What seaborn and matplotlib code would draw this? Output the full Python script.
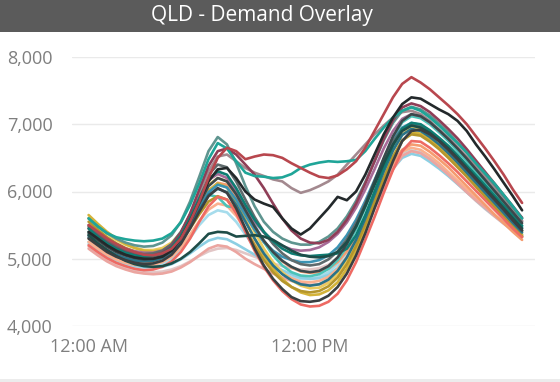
import pandas as pd
import matplotlib.pyplot as plt
import seaborn as sns
from matplotlib.patches import Rectangle
from matplotlib.ticker import FuncFormatter

# half-hourly time of day (hours after midnight)
half_hours = [0, 0.5, 1, 1.5, 2, 2.5, 3, 3.5, 4, 4.5, 5, 5.5,
              6, 6.5, 7, 7.5, 8, 8.5, 9, 9.5, 10, 10.5, 11, 11.5,
              12, 12.5, 13, 13.5, 14, 14.5, 15, 15.5, 16, 16.5, 17, 17.5,
              18, 18.5, 19, 19.5, 20, 20.5, 21, 21.5, 22, 22.5, 23, 23.5]

# demand (MW) per day
day_pale_blue = [5220, 5120, 5030, 4960, 4910, 4880, 4870, 4880, 4920, 5000, 5130, 5310,
                 5500, 5650, 5720, 5690, 5550, 5360, 5170, 5000, 4880, 4790, 4730, 4700,
                 4700, 4730, 4800, 4920, 5100, 5330, 5600, 5890, 6170, 6410, 6560, 6610,
                 6580, 6490, 6380, 6260, 6130, 6000, 5870, 5750, 5640, 5540, 5440, 5350]
day_light_pink = [5180, 5080, 4990, 4920, 4870, 4830, 4810, 4800, 4810, 4840, 4890, 4960,
                  5040, 5110, 5150, 5160, 5130, 5080, 5030, 4980, 4930, 4890, 4860, 4840,
                  4840, 4860, 4910, 5000, 5140, 5340, 5590, 5870, 6140, 6380, 6540, 6600,
                  6570, 6480, 6360, 6240, 6120, 5990, 5860, 5740, 5630, 5520, 5420, 5330]
day_light_blue = [5250, 5150, 5060, 4990, 4940, 4900, 4880, 4870, 4880, 4920, 4990, 5080,
                  5180, 5270, 5310, 5290, 5220, 5140, 5060, 4980, 4900, 4830, 4770, 4720,
                  4700, 4710, 4760, 4860, 5020, 5250, 5520, 5820, 6100, 6340, 6500, 6560,
                  6530, 6440, 6340, 6230, 6110, 5990, 5870, 5750, 5640, 5530, 5430, 5330]
day_peach = [5250, 5150, 5060, 4990, 4940, 4910, 4900, 4910, 4950, 5030, 5170, 5360,
             5560, 5730, 5820, 5790, 5640, 5430, 5220, 5040, 4900, 4790, 4710, 4660,
             4650, 4670, 4730, 4850, 5030, 5270, 5550, 5860, 6150, 6410, 6590, 6650,
             6620, 6530, 6420, 6290, 6160, 6030, 5900, 5770, 5650, 5540, 5440, 5340]
day_pink = [5150, 5050, 4960, 4890, 4840, 4800, 4780, 4770, 4780, 4810, 4870, 4950,
            5050, 5150, 5200, 5180, 5100, 5000, 4920, 4850, 4780, 4720, 4670, 4630,
            4610, 4620, 4660, 4760, 4920, 5150, 5430, 5750, 6050, 6330, 6530, 6600,
            6570, 6480, 6370, 6250, 6120, 5990, 5870, 5760, 5640, 5530, 5430, 5340]
day_light_yellow = [5600, 5480, 5370, 5280, 5210, 5160, 5130, 5130, 5160, 5240, 5390, 5610,
                    5870, 6100, 6200, 6150, 5950, 5680, 5400, 5150, 4950, 4800, 4680, 4600,
                    4560, 4570, 4640, 4770, 4970, 5240, 5570, 5930, 6290, 6610, 6850, 6950,
                    6930, 6840, 6720, 6590, 6450, 6300, 6150, 6000, 5850, 5700, 5550, 5410]
day_orange = [5300, 5200, 5110, 5040, 4990, 4960, 4950, 4960, 5000, 5090, 5250, 5480,
              5750, 6000, 6130, 6100, 5920, 5680, 5450, 5250, 5080, 4960, 4870, 4810,
              4790, 4800, 4850, 4950, 5110, 5330, 5600, 5900, 6180, 6430, 6620, 6700,
              6680, 6590, 6480, 6360, 6220, 6080, 5940, 5800, 5660, 5530, 5400, 5280]
day_light_teal = [5400, 5290, 5200, 5130, 5080, 5050, 5040, 5050, 5090, 5180, 5350, 5580,
                  5800, 5950, 5920, 5780, 5760, 5700, 5500, 5250, 5050, 4900, 4800, 4750,
                  4740, 4770, 4850, 4980, 5180, 5440, 5760, 6120, 6480, 6800, 7030, 7120,
                  7090, 7000, 6880, 6750, 6600, 6450, 6290, 6130, 5970, 5810, 5650, 5490]
day_yellow = [5650, 5520, 5400, 5300, 5220, 5160, 5120, 5110, 5130, 5200, 5340, 5550,
              5800, 6020, 6120, 6060, 5850, 5580, 5300, 5050, 4850, 4700, 4580, 4500,
              4460, 4470, 4530, 4650, 4850, 5120, 5450, 5800, 6150, 6480, 6750, 6880,
              6860, 6770, 6660, 6530, 6390, 6240, 6090, 5940, 5790, 5640, 5490, 5360]
day_mustard = [5550, 5430, 5320, 5230, 5160, 5110, 5080, 5070, 5090, 5150, 5270, 5450,
               5660, 5850, 5930, 5880, 5700, 5450, 5200, 4980, 4800, 4670, 4580, 4520,
               4500, 4520, 4590, 4720, 4920, 5190, 5510, 5860, 6200, 6520, 6760, 6850,
               6830, 6740, 6630, 6500, 6360, 6220, 6070, 5920, 5770, 5620, 5470, 5330]
day_blue = [5350, 5250, 5160, 5090, 5040, 5000, 4990, 5000, 5040, 5130, 5290, 5510,
            5760, 5990, 6100, 6060, 5880, 5650, 5430, 5250, 5120, 5030, 4980, 4950,
            4950, 4980, 5050, 5170, 5350, 5580, 5860, 6170, 6480, 6760, 6950, 7020,
            6990, 6900, 6780, 6650, 6510, 6360, 6210, 6060, 5910, 5760, 5610, 5460]
day_purple = [5500, 5390, 5290, 5210, 5150, 5110, 5090, 5090, 5120, 5210, 5380, 5630,
              5920, 6170, 6260, 6200, 6000, 5760, 5550, 5390, 5270, 5190, 5140, 5120,
              5130, 5170, 5250, 5370, 5540, 5760, 6030, 6330, 6640, 6900, 7080, 7150,
              7120, 7030, 6910, 6790, 6650, 6500, 6350, 6200, 6040, 5880, 5720, 5560]
day_salmon = [5200, 5100, 5010, 4940, 4890, 4850, 4830, 4840, 4880, 4960, 5100, 5300,
              5550, 5780, 5920, 5880, 5680, 5400, 5120, 4880, 4680, 4520, 4400, 4320,
              4290, 4300, 4360, 4480, 4680, 4950, 5280, 5620, 5980, 6320, 6600, 6750,
              6740, 6650, 6540, 6420, 6290, 6150, 6010, 5870, 5730, 5590, 5450, 5320]
day_slate = [5480, 5370, 5270, 5190, 5130, 5090, 5070, 5080, 5120, 5220, 5400, 5660,
             5960, 6250, 6400, 6360, 6150, 5880, 5620, 5400, 5220, 5080, 4980, 4920,
             4900, 4920, 4990, 5110, 5290, 5530, 5820, 6140, 6460, 6740, 6930, 7000,
             6970, 6880, 6760, 6630, 6490, 6340, 6180, 6030, 5870, 5720, 5570, 5420]
day_steel = [5320, 5220, 5130, 5060, 5010, 4970, 4960, 4970, 5010, 5100, 5260, 5480,
             5730, 5950, 6040, 5990, 5800, 5550, 5300, 5080, 4900, 4770, 4680, 4620,
             4600, 4620, 4690, 4820, 5020, 5280, 5600, 5950, 6300, 6610, 6840, 6930,
             6900, 6810, 6700, 6570, 6430, 6280, 6130, 5980, 5830, 5680, 5530, 5390]
day_mauve = [5350, 5250, 5170, 5100, 5050, 5020, 5000, 5010, 5050, 5150, 5330, 5600,
             5950, 6300, 6520, 6550, 6450, 6350, 6280, 6230, 6180, 6150, 6050, 5980,
             6020, 6080, 6150, 6250, 6400, 6550, 6700, 6850, 6980, 7100, 7180, 7200,
             7150, 7050, 6920, 6800, 6660, 6520, 6370, 6220, 6060, 5900, 5730, 5560]
day_gray_teal = [5600, 5480, 5380, 5300, 5240, 5200, 5180, 5190, 5240, 5350, 5550, 5850,
                 6220, 6600, 6810, 6700, 6420, 6080, 5780, 5550, 5400, 5300, 5240, 5210,
                 5210, 5250, 5330, 5450, 5630, 5860, 6140, 6450, 6760, 7020, 7200, 7260,
                 7220, 7130, 7010, 6880, 6730, 6580, 6420, 6260, 6100, 5930, 5760, 5600]
day_maroon = [5450, 5340, 5240, 5160, 5100, 5060, 5040, 5050, 5090, 5190, 5380, 5670,
              6030, 6380, 6600, 6640, 6550, 6400, 6250, 6050, 5820, 5600, 5420, 5300,
              5240, 5230, 5280, 5400, 5580, 5820, 6120, 6450, 6780, 7060, 7250, 7310,
              7270, 7180, 7060, 6930, 6790, 6630, 6460, 6290, 6120, 5950, 5780, 5610]
day_dark_teal = [5450, 5330, 5230, 5150, 5090, 5050, 5030, 5040, 5080, 5170, 5340, 5600,
                 5900, 6180, 6300, 6250, 6050, 5800, 5580, 5400, 5260, 5150, 5080, 5050,
                 5040, 5050, 5060, 5080, 5150, 5350, 5650, 6000, 6350, 6680, 6930, 7020,
                 7000, 6910, 6800, 6680, 6540, 6390, 6240, 6090, 5940, 5790, 5640, 5490]
day_teal = [5600, 5480, 5380, 5320, 5290, 5270, 5260, 5270, 5300, 5380, 5540, 5800,
            6120, 6480, 6720, 6640, 6450, 6280, 6230, 6220, 6200, 6210, 6260, 6350,
            6400, 6430, 6450, 6440, 6450, 6470, 6600, 6780, 6950, 7100, 7200, 7250,
            7200, 7100, 6980, 6850, 6720, 6580, 6420, 6270, 6120, 5950, 5780, 5600]
day_dark_slate = [5380, 5280, 5180, 5100, 5050, 5010, 4990, 5000, 5040, 5130, 5300, 5540,
                  5820, 6080, 6200, 6150, 5960, 5720, 5480, 5270, 5100, 4970, 4880, 4820,
                  4800, 4820, 4890, 5020, 5220, 5480, 5800, 6150, 6500, 6820, 7050, 7150,
                  7120, 7030, 6910, 6780, 6640, 6490, 6330, 6170, 6010, 5850, 5690, 5530]
day_dark_green = [5350, 5230, 5130, 5040, 4970, 4920, 4890, 4880, 4890, 4930, 5000, 5100,
                  5230, 5370, 5400, 5390, 5330, 5340, 5350, 5330, 5280, 5200, 5120, 5060,
                  5030, 5020, 5040, 5100, 5250, 5480, 5780, 6100, 6420, 6700, 6900, 6980,
                  6950, 6870, 6760, 6640, 6500, 6350, 6200, 6050, 5900, 5750, 5600, 5450]
day_black_low = [5300, 5200, 5100, 5030, 4980, 4940, 4920, 4930, 4970, 5060, 5220, 5450,
                 5700, 5930, 6050, 5980, 5750, 5450, 5150, 4900, 4700, 4550, 4430, 4370,
                 4360, 4380, 4450, 4580, 4780, 5050, 5380, 5750, 6100, 6450, 6750, 6900,
                 6920, 6850, 6750, 6620, 6480, 6330, 6180, 6030, 5880, 5730, 5570, 5420]
day_black = [5400, 5300, 5200, 5120, 5060, 5020, 5000, 5000, 5030, 5120, 5300, 5560,
             5850, 6150, 6330, 6350, 6200, 6000, 5880, 5820, 5770, 5600, 5450, 5360,
             5450, 5600, 5750, 5920, 5870, 6000, 6250, 6550, 6850, 7100, 7300, 7400,
             7380, 7300, 7220, 7150, 7050, 6900, 6700, 6520, 6330, 6130, 5930, 5720]
day_hot = [5500, 5400, 5300, 5220, 5150, 5100, 5060, 5050, 5080, 5150, 5300, 5550,
           5850, 6200, 6500, 6650, 6600, 6480, 6520, 6550, 6540, 6500, 6420, 6350,
           6280, 6220, 6200, 6240, 6330, 6450, 6650, 6900, 7150, 7400, 7600, 7700,
           7620, 7520, 7400, 7280, 7150, 7000, 6820, 6640, 6450, 6250, 6030, 5830]

days = {
    'pale_blue': day_pale_blue, 'light_pink': day_light_pink, 'light_blue': day_light_blue,
    'peach': day_peach, 'pink': day_pink, 'light_yellow': day_light_yellow,
    'orange': day_orange, 'light_teal': day_light_teal, 'yellow': day_yellow,
    'mustard': day_mustard, 'blue': day_blue, 'purple': day_purple,
    'salmon': day_salmon, 'slate': day_slate, 'steel': day_steel,
    'mauve': day_mauve, 'gray_teal': day_gray_teal, 'maroon': day_maroon,
    'dark_teal': day_dark_teal, 'teal': day_teal, 'dark_slate': day_dark_slate,
    'dark_green': day_dark_green, 'black_low': day_black_low, 'black': day_black,
    'hot': day_hot,
}
day_colors = ['#A6DCEC', '#E2C6C6', '#8CCFE3', '#FBB08E', '#EBA5A0', '#EBCB5E',
              '#F59C70', '#4CC3B8', '#D4B339', '#B5962C', '#3B93B3', '#A66B98',
              '#EE6A63', '#5F6B6D', '#2A7388', '#A3898F', '#5F9590', '#8F3E57',
              '#0F7D73', '#1FA598', '#3B484B', '#1E4D48', '#3A3F41', '#23292B',
              '#B8474E']

rows = []
for name, vals in days.items():
    for t, v in zip(half_hours, vals):
        rows.append({'time': t, 'demand': v, 'day': name})
df = pd.DataFrame(rows)

sns.set_theme(style='white')
plt.rcParams['font.family'] = ['Open Sans', 'DejaVu Sans']

fig = plt.figure(figsize=(5.6, 3.82), dpi=100)
fig.patch.set_facecolor('white')

# title bar
fig.patches.append(Rectangle((0, 1 - 32 / 382), 1, 32 / 382, transform=fig.transFigure,
                             facecolor='#5B5B5B', edgecolor='none', zorder=0))
fig.text(0.468, 1 - 16 / 382, 'QLD - Demand Overlay', color='white', fontsize=15,
         ha='center', va='center')
fig.patches.append(Rectangle((0, 0), 1, 3 / 382, transform=fig.transFigure,
                             facecolor='#ECECEC', edgecolor='none', zorder=0))

ax = fig.add_axes([72 / 560, 56 / 382, 463 / 560, 269 / 382])
sns.lineplot(data=df, x='time', y='demand', hue='day', hue_order=list(days.keys()),
             palette=day_colors, linewidth=1.9, legend=False, errorbar=None, ax=ax)

ax.set_xlim(-0.9, 24.2)
ax.set_ylim(4000, 8000)
ax.set_yticks([4000, 5000, 6000, 7000, 8000])
ax.yaxis.set_major_formatter(FuncFormatter(lambda v, p: f'{int(v):,}'))
ax.set_xticks([0, 12])
ax.set_xticklabels(['12:00 AM', '12:00 PM'])
ax.set_xlabel('')
ax.set_ylabel('')
ax.grid(axis='y', color='#EAEAEA', linewidth=1)
ax.set_axisbelow(True)
for s in ax.spines.values():
    s.set_visible(False)
ax.tick_params(axis='both', length=0, labelsize=13, labelcolor='#7F7F7F')
ax.tick_params(axis='y', pad=14)
ax.tick_params(axis='x', pad=9)

fig.savefig('out.png', dpi=100)
